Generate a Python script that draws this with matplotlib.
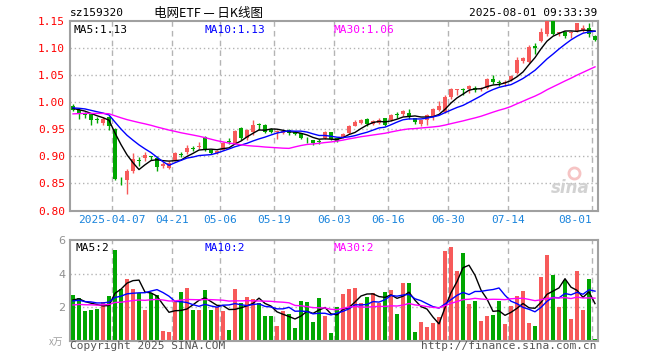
import matplotlib
matplotlib.use('Agg')
import matplotlib.pyplot as plt
import numpy as np
import pandas as pd

# daily K data, 2025-03-26 .. 2025-08-01 (88 trading days)
opens = [0.993, 0.986, 0.978, 0.977, 0.969, 0.961, 0.972, 0.950, 0.860, 0.856,
         0.873, 0.893, 0.897, 0.899, 0.897, 0.882, 0.879, 0.893, 0.905, 0.907,
         0.916, 0.917, 0.936, 0.911, 0.906, 0.912, 0.928, 0.925, 0.952, 0.933,
         0.944, 0.959, 0.958, 0.950, 0.944, 0.943, 0.949, 0.945, 0.942, 0.932,
         0.929, 0.928, 0.933, 0.944, 0.933, 0.935, 0.943, 0.956, 0.962, 0.968,
         0.960, 0.962, 0.970, 0.966, 0.977, 0.977, 0.980, 0.970, 0.960, 0.966,
         0.974, 0.986, 0.982, 1.010, 1.022, 1.024, 1.023, 1.026, 1.023, 1.026,
         1.043, 1.036, 1.034, 1.040, 1.054, 1.075, 1.073, 1.103, 1.112, 1.125,
         1.150, 1.127, 1.129, 1.127, 1.130, 1.133, 1.137, 1.122]
highs = [0.996, 0.988, 0.981, 0.978, 0.972, 0.972, 0.974, 0.952, 0.862, 0.877,
         0.906, 0.898, 0.907, 0.901, 0.900, 0.890, 0.891, 0.907, 0.908, 0.920,
         0.918, 0.926, 0.937, 0.912, 0.911, 0.926, 0.933, 0.948, 0.954, 0.950,
         0.966, 0.962, 0.959, 0.952, 0.948, 0.949, 0.950, 0.946, 0.943, 0.936,
         0.930, 0.931, 0.946, 0.945, 0.934, 0.943, 0.957, 0.967, 0.969, 0.970,
         0.966, 0.970, 0.971, 0.977, 0.981, 0.985, 0.987, 0.971, 0.967, 0.978,
         0.989, 1.001, 1.012, 1.026, 1.023, 1.025, 1.032, 1.030, 1.027, 1.045,
         1.049, 1.040, 1.040, 1.049, 1.082, 1.082, 1.104, 1.108, 1.137, 1.152,
         1.151, 1.129, 1.131, 1.130, 1.146, 1.141, 1.145, 1.123]
lows = [0.983, 0.969, 0.970, 0.957, 0.962, 0.958, 0.949, 0.857, 0.847, 0.831,
        0.869, 0.882, 0.892, 0.893, 0.872, 0.879, 0.876, 0.892, 0.899, 0.905,
        0.910, 0.913, 0.910, 0.905, 0.904, 0.911, 0.922, 0.923, 0.930, 0.930,
        0.940, 0.949, 0.942, 0.942, 0.931, 0.941, 0.940, 0.939, 0.932, 0.925,
        0.921, 0.923, 0.932, 0.929, 0.926, 0.933, 0.941, 0.955, 0.960, 0.956,
        0.958, 0.960, 0.956, 0.964, 0.971, 0.975, 0.968, 0.960, 0.955, 0.957,
        0.967, 0.984, 0.980, 1.005, 1.012, 1.012, 1.016, 1.018, 1.020, 1.024,
        1.033, 1.029, 1.030, 1.038, 1.052, 1.072, 1.071, 1.089, 1.110, 1.122,
        1.124, 1.122, 1.118, 1.117, 1.128, 1.128, 1.120, 1.112]
closes = [0.986, 0.978, 0.976, 0.966, 0.967, 0.968, 0.955, 0.858, 0.859, 0.873,
          0.895, 0.892, 0.902, 0.898, 0.881, 0.886, 0.888, 0.906, 0.903, 0.915,
          0.914, 0.919, 0.911, 0.906, 0.910, 0.924, 0.926, 0.947, 0.933, 0.948,
          0.957, 0.957, 0.944, 0.945, 0.946, 0.947, 0.943, 0.941, 0.934, 0.931,
          0.924, 0.927, 0.944, 0.931, 0.928, 0.941, 0.956, 0.963, 0.967, 0.960,
          0.964, 0.967, 0.958, 0.976, 0.976, 0.984, 0.972, 0.963, 0.966, 0.976,
          0.987, 0.993, 1.010, 1.024, 1.023, 1.022, 1.029, 1.022, 1.025, 1.043,
          1.037, 1.034, 1.036, 1.047, 1.078, 1.081, 1.102, 1.100, 1.128, 1.149,
          1.126, 1.128, 1.122, 1.129, 1.145, 1.137, 1.125, 1.115]
volumes = [2.72, 2.56, 1.76, 1.82, 1.88, 2.32, 2.66, 5.40, 3.07, 3.67,
           3.07, 2.82, 1.82, 2.82, 2.72, 0.57, 0.49, 2.28, 2.92, 3.15,
           1.82, 1.82, 3.01, 1.82, 2.02, 1.76, 0.63, 3.07, 2.26, 2.62,
           2.48, 2.22, 1.48, 1.48, 0.89, 1.76, 1.56, 0.73, 2.36, 2.32,
           1.12, 2.56, 1.48, 0.47, 2.02, 2.78, 3.07, 3.15, 2.26, 2.62,
           2.82, 2.26, 2.92, 3.01, 1.58, 3.45, 3.45, 0.53, 1.12, 0.83,
           1.06, 1.42, 5.35, 5.60, 4.15, 5.20, 2.18, 2.36, 1.16, 1.48,
           1.52, 2.36, 0.99, 2.06, 2.68, 2.96, 1.06, 0.86, 3.81, 5.10,
           3.91, 2.02, 3.61, 1.28, 4.15, 1.82, 3.67, 0.09]

# earlier sessions, only used to warm up the moving averages
prev_closes = [0.962, 0.965, 0.968, 0.966, 0.970, 0.973, 0.971, 0.969, 0.974, 0.976,
               0.972, 0.975, 0.978, 0.974, 0.971, 0.973, 0.977, 0.980, 0.979, 0.977,
               0.985, 0.988, 0.992, 0.993, 0.992, 0.990, 0.989, 0.987, 0.988]
prev_volumes = [1.6, 2.3, 1.9, 2.5, 1.7, 2.1, 1.8, 2.6, 2.2, 1.5,
                1.9, 2.4, 1.8, 2.0, 1.7, 2.3, 2.1, 1.6, 1.9, 2.1,
                2.1, 2.6, 2.0, 2.5, 2.3, 2.2, 2.6, 2.3, 2.28]

tick_idx = [7, 17, 25, 34, 44, 53, 63, 73, 87]
tick_labels = ['2025-04-07', '04-21', '05-06', '05-19', '06-03',
               '06-16', '06-30', '07-14', '08-01']

RED = '#f75a5a'
GREEN = '#00a600'
GRID = '#b4b4b4'
MONO = 'DejaVu Sans Mono'
CJK = ['Noto Sans CJK SC', 'DejaVu Sans']


def moving_averages(prev, values, windows):
    s = pd.Series(list(prev) + list(values))
    n = len(prev)
    return [s.rolling(w).mean().values[n:] for w in windows]


def style_axes(ax):
    for sp in ax.spines.values():
        sp.set_color('#a0a0a0')
        sp.set_linewidth(1.5)
    ax.tick_params(length=0)
    ax.set_xlim(-0.5, len(closes) - 0.5)
    for i in tick_idx:
        ax.axvline(i - 0.5, color=GRID, lw=1, ls=(0, (4, 3)), zorder=0)


o = np.array(opens)
h = np.array(highs)
l = np.array(lows)
c = np.array(closes)
v = np.array(volumes)
x = np.arange(len(c))
up = c >= o
colors = np.where(up, RED, GREEN)

fig = plt.figure(figsize=(6.6, 3.6), dpi=100)
ax = fig.add_axes([70 / 660, 1 - 210.5 / 360, 528 / 660, 190 / 360])
axv = fig.add_axes([70 / 660, 1 - 340.5 / 360, 528 / 660, 100.5 / 360])

# price panel
style_axes(ax)
ax.set_ylim(0.80, 1.15)
yt = np.arange(0.80, 1.151, 0.05)
ax.set_yticks(yt)
ax.set_yticklabels(['%.2f' % t for t in yt], color='red', family=MONO, fontsize=8)
for t in yt[1:-1]:
    ax.axhline(t, color=GRID, lw=1, ls=(0, (1, 2)), zorder=0)
ax.vlines(x, l, h, colors=colors, lw=1, zorder=2)
ax.bar(x, np.maximum(np.abs(c - o), 0.0015), bottom=np.minimum(o, c),
       width=0.8, color=colors, zorder=3)

ma5, ma10, ma30 = moving_averages(prev_closes, closes, [5, 10, 30])
ax.plot(x, ma5, color='black', lw=1, zorder=4)
ax.plot(x, ma10, color='#0000ff', lw=1, zorder=4)
ax.plot(x, ma30, color='#ff00ff', lw=1, zorder=4)

ax.set_xticks([i - 0.5 for i in tick_idx])
ax.set_xticklabels(tick_labels, color='#1a84dc', family=MONO, fontsize=8)
ax.tick_params(axis='x', pad=3)
ax.get_xticklabels()[-1].set_horizontalalignment('right')

ax.text(0.006, 0.975, 'MA5:%.2f' % ma5[-1], transform=ax.transAxes, color='black',
        family=MONO, fontsize=8, va='top')
ax.text(0.255, 0.975, 'MA10:%.2f' % ma10[-1], transform=ax.transAxes, color='#0000ff',
        family=MONO, fontsize=8, va='top')
ax.text(0.5, 0.975, 'MA30:%.2f' % ma30[-1], transform=ax.transAxes, color='#ff00ff',
        family=MONO, fontsize=8, va='top')
ax.text(0.985, 0.07, 'sina', transform=ax.transAxes, color='#d2d2d2', fontsize=12,
        fontweight='bold', style='italic', ha='right', va='bottom', zorder=1)
ax.plot([0.955], [0.2], 'o', transform=ax.transAxes, ms=8, mfc='none',
        mec='#f6c4c4', mew=2, zorder=1)

# volume panel
style_axes(axv)
axv.set_ylim(0, 6)
axv.set_yticks([2, 4, 6])
axv.set_yticklabels(['2', '4', '6'], color='#909090', fontsize=8)
for t in [2, 4]:
    axv.axhline(t, color=GRID, lw=1, ls=(0, (1, 2)), zorder=0)
axv.set_xticks([])
axv.bar(x, v, width=0.8, color=colors, zorder=2)
vma5, vma10, vma30 = moving_averages(prev_volumes, volumes, [5, 10, 30])
axv.plot(x, vma5, color='black', lw=1, zorder=3)
axv.plot(x, vma10, color='#0000ff', lw=1, zorder=3)
axv.plot(x, vma30, color='#ff00ff', lw=1, zorder=3)
axv.text(0.01, 0.97, 'MA5:%d' % int(vma5[-1]), transform=axv.transAxes,
         color='black', family=MONO, fontsize=8, va='top')
axv.text(0.255, 0.97, 'MA10:%d' % int(vma10[-1]), transform=axv.transAxes,
         color='#0000ff', family=MONO, fontsize=8, va='top')
axv.text(0.5, 0.97, 'MA30:%d' % int(vma30[-1]), transform=axv.transAxes,
         color='#ff00ff', family=MONO, fontsize=8, va='top')

# header and footer texts
fig.text(70 / 660, 1 - 13 / 360, 'sz159320', family=MONO, fontsize=8, va='center')
fig.text(209 / 660, 1 - 13 / 360, '电网ETF — 日K线图', family=CJK, fontsize=9,
         ha='center', va='center')
fig.text(597 / 660, 1 - 13 / 360, '2025-08-01 09:33:39', family=MONO, fontsize=8,
         ha='right', va='center')
fig.text(70 / 660, 1 - 346 / 360, 'Copyright 2025 SINA.COM', family=MONO, fontsize=8,
         color='#555555', va='center')
fig.text(597 / 660, 1 - 346 / 360, 'http://finance.sina.com.cn', family=MONO,
         fontsize=8, color='#555555', ha='right', va='center')
fig.text(63 / 660, 1 - 342 / 360, 'x万', family=CJK, fontsize=7, color='#a0a0a0',
         ha='right', va='center', style='italic')

fig.savefig('out.png', dpi=100)
